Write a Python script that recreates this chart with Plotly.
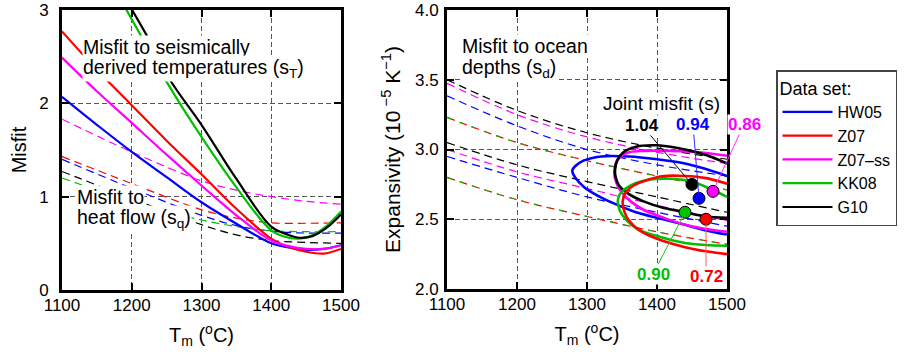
import plotly.graph_objects as go

FONT = "Liberation Sans, Arial, Helvetica, sans-serif"

DATASETS = ["HW05", "Z07", "Z07\u2013ss", "KK08", "G10"]
COLORS = ["#0000ff", "#ff0000", "#ff00ff", "#00c000", "#000000"]
LEADER_COLORS = ["#3030ff", "#ff5a5a", "#ff30ff", "#20c020", "#000000"]

# ---------------- Left panel: misfit vs Tm ----------------
# Misfit to seismically derived temperatures (s_T)
T_sT_HW05 = [1100, 1150, 1200, 1250, 1300, 1350, 1400, 1425, 1450, 1475, 1500]
sT_HW05 = [2.07, 1.77, 1.48, 1.21, 0.94, 0.71, 0.50, 0.455, 0.43, 0.44, 0.48]
T_sT_Z07 = [1100, 1150, 1200, 1250, 1300, 1350, 1400, 1425, 1450, 1475, 1500]
sT_Z07 = [2.77, 2.36, 1.98, 1.60, 1.24, 0.87, 0.55, 0.46, 0.41, 0.39, 0.44]
T_sT_Z07ss = [1100, 1150, 1200, 1250, 1300, 1350, 1400, 1425, 1450, 1475, 1500]
sT_Z07ss = [2.49, 2.13, 1.79, 1.45, 1.12, 0.80, 0.53, 0.47, 0.44, 0.44, 0.48]
T_sT_KK08 = [1185, 1215, 1250, 1300, 1350, 1400, 1425, 1440, 1460, 1480, 1500]
sT_KK08 = [3.10, 2.70, 2.23, 1.64, 1.10, 0.64, 0.56, 0.55, 0.59, 0.69, 0.84]
T_sT_G10 = [1195, 1225, 1255, 1300, 1350, 1400, 1425, 1440, 1460, 1480, 1500]
sT_G10 = [3.07, 2.68, 2.25, 1.77, 1.19, 0.68, 0.59, 0.56, 0.58, 0.67, 0.81]

# Misfit to heat flow (s_q)
T_sq = [1100, 1200, 1300, 1350, 1400, 1450, 1500]
sq_HW05 = [1.40, 1.09, 0.80, 0.69, 0.63, 0.61, 0.61]
sq_Z07 = [1.43, 1.14, 0.86, 0.77, 0.72, 0.715, 0.72]
sq_Z07ss = [1.83, 1.48, 1.17, 1.07, 1.00, 0.95, 0.92]
sq_KK08 = [1.20, 0.95, 0.75, 0.68, 0.635, 0.625, 0.625]
sq_G10 = [1.27, 0.98, 0.70, 0.59, 0.53, 0.51, 0.50]

# ---------------- Right panel: expansivity vs Tm ----------------
# Misfit to ocean depths (s_d): upper / lower bounds
T_sd = [1100, 1200, 1300, 1400, 1500]
sd_up_HW05 = [3.385, 3.17, 3.00, 2.89, 2.81]
sd_lo_HW05 = [2.95, 2.80, 2.66, 2.55, 2.45]
sd_up_Z07 = [3.23, 3.05, 2.92, 2.81, 2.71]
sd_lo_Z07 = [2.80, 2.64, 2.52, 2.41, 2.32]
sd_up_Z07ss = [3.475, 3.25, 3.09, 2.98, 2.90]
sd_lo_Z07ss = [3.00, 2.84, 2.72, 2.60, 2.49]
sd_up_KK08 = [3.23, 3.05, 2.92, 2.81, 2.71]
sd_lo_KK08 = [2.80, 2.64, 2.52, 2.41, 2.32]
sd_up_G10 = [3.50, 3.28, 3.12, 3.01, 2.93]
sd_lo_G10 = [3.05, 2.89, 2.77, 2.66, 2.55]

# Joint misfit contours
cT_HW05 = [1500, 1470, 1440, 1400, 1360, 1320, 1295, 1283, 1279, 1283, 1296, 1315, 1340, 1370, 1400, 1440, 1470, 1500]
cE_HW05 = [2.81, 2.86, 2.90, 2.93, 2.95, 2.95, 2.92, 2.88, 2.85, 2.80, 2.73, 2.67, 2.61, 2.55, 2.51, 2.46, 2.42, 2.39]
cT_Z07 = [1500, 1470, 1440, 1410, 1385, 1366, 1355, 1351, 1353, 1360, 1375, 1400, 1440, 1470, 1500]
cE_Z07 = [2.755, 2.795, 2.81, 2.81, 2.78, 2.74, 2.69, 2.63, 2.56, 2.49, 2.42, 2.36, 2.30, 2.27, 2.25]
cT_Z07ss = [1500, 1460, 1420, 1380, 1360, 1348, 1341, 1339, 1342, 1350, 1362, 1380, 1410, 1440, 1470, 1500]
cE_Z07ss = [2.955, 2.98, 2.99, 2.99, 2.98, 2.95, 2.90, 2.83, 2.76, 2.69, 2.63, 2.57, 2.51, 2.46, 2.43, 2.41]
cT_KK08 = [1500, 1475, 1450, 1420, 1390, 1370, 1355, 1347, 1344, 1347, 1357, 1372, 1400, 1440, 1470, 1500]
cE_KK08 = [2.66, 2.72, 2.77, 2.79, 2.785, 2.76, 2.72, 2.68, 2.63, 2.56, 2.49, 2.43, 2.38, 2.33, 2.315, 2.31]
cT_G10 = [1500, 1470, 1440, 1400, 1370, 1352, 1343, 1340, 1341, 1346, 1360, 1380, 1410, 1440, 1470, 1500]
cE_G10 = [2.90, 2.96, 3.00, 3.03, 3.02, 2.98, 2.92, 2.85, 2.80, 2.74, 2.68, 2.63, 2.58, 2.55, 2.52, 2.51]

# Best-fitting models and their joint misfit
BEST_T = [1460, 1470, 1480, 1440, 1450]
BEST_E = [2.65, 2.50, 2.70, 2.55, 2.75]
JOINT_MISFIT = [0.94, 0.72, 0.86, 0.90, 1.04]
# label offsets in pixels (ax, ay) from each point
LABEL_OFFSETS = [(-6, -74), (0, 57), (31, -67), (-32, 62), (-50, -59)]

sT_T = [T_sT_HW05, T_sT_Z07, T_sT_Z07ss, T_sT_KK08, T_sT_G10]
sT_V = [sT_HW05, sT_Z07, sT_Z07ss, sT_KK08, sT_G10]
sq_V = [sq_HW05, sq_Z07, sq_Z07ss, sq_KK08, sq_G10]
sd_UP = [sd_up_HW05, sd_up_Z07, sd_up_Z07ss, sd_up_KK08, sd_up_G10]
sd_LO = [sd_lo_HW05, sd_lo_Z07, sd_lo_Z07ss, sd_lo_KK08, sd_lo_G10]
C_T = [cT_HW05, cT_Z07, cT_Z07ss, cT_KK08, cT_G10]
C_E = [cE_HW05, cE_Z07, cE_Z07ss, cE_KK08, cE_G10]

W, H = 909, 357


def xf(px):
    return px / W


def yf(py):
    return (H - py) / H


fig = go.Figure()

for i in range(5):
    fig.add_trace(go.Scatter(x=T_sq, y=sq_V[i], mode="lines", line_shape="spline",
                             line=dict(color=COLORS[i], width=1.2, dash="8px,5px"),
                             xaxis="x", yaxis="y", showlegend=False, hoverinfo="skip"))

dash_patterns = ["8px,5px", "8px,5px", "8px,5px", "4px,9px", "8px,5px"]
for i in range(5):
    for arr in (sd_UP[i], sd_LO[i]):
        fig.add_trace(go.Scatter(x=T_sd, y=arr, mode="lines", line_shape="spline",
                                 line=dict(color=COLORS[i], width=1.2, dash=dash_patterns[i]),
                                 xaxis="x2", yaxis="y2", showlegend=False, hoverinfo="skip"))

for i in range(5):
    fig.add_trace(go.Scatter(x=sT_T[i], y=sT_V[i], mode="lines", line_shape="spline",
                             line=dict(color=COLORS[i], width=2.2), name=DATASETS[i],
                             legendrank=i + 1, xaxis="x", yaxis="y", showlegend=True))

for i in [0, 2, 4, 3, 1]:
    fig.add_trace(go.Scatter(x=C_T[i], y=C_E[i], mode="lines",
                             line_shape="spline", line=dict(color=COLORS[i], width=2.6, smoothing=0.9),
                             xaxis="x2", yaxis="y2", showlegend=False, hoverinfo="skip"))

fig.add_trace(go.Scatter(x=BEST_T, y=BEST_E, mode="markers",
                         marker=dict(size=12, color=COLORS, line=dict(color="black", width=1)),
                         xaxis="x2", yaxis="y2", showlegend=False, cliponaxis=False))

axis_common = dict(showline=True, linewidth=3, linecolor="black", mirror="allticks",
                   ticks="inside", ticklen=7, tickwidth=1.5, tickcolor="black",
                   showgrid=True, gridcolor="#555555", gridwidth=1, griddash="5px,3px",
                   zeroline=False, ticklabeloverflow="allow",
                   tickfont=dict(family=FONT, size=17, color="black"))

title_font = dict(family=FONT, size=20, color="black")

fig.update_layout(
    width=W, height=H,
    margin=dict(l=0, r=0, t=0, b=0, autoexpand=False),
    paper_bgcolor="white", plot_bgcolor="white",
    font=dict(family=FONT, color="black"),
    xaxis=dict(domain=[xf(62), xf(341)], anchor="y", range=[1100, 1500],
               tickvals=[1100, 1200, 1300, 1400, 1500], ticklabelstandoff=-2,
               title=dict(text="T<sub>m</sub> (<sup>o</sup>C)", font=title_font, standoff=14),
               **axis_common),
    yaxis=dict(domain=[yf(290), yf(10)], anchor="x", range=[0, 3],
               tickvals=[0, 1, 2, 3], ticklabelstandoff=7,
               title=dict(text="Misfit", font=title_font, standoff=8),
               **axis_common),
    xaxis2=dict(domain=[xf(447), xf(727)], anchor="y2", range=[1100, 1500],
                tickvals=[1100, 1200, 1300, 1400, 1500], ticklabelstandoff=-2,
                title=dict(text="T<sub>m</sub> (<sup>o</sup>C)", font=title_font, standoff=14),
                **axis_common),
    yaxis2=dict(domain=[yf(289), yf(10)], anchor="x2", range=[2, 4],
                tickvals=[2.0, 2.5, 3.0, 3.5, 4.0], ticktext=["2.0", "2.5", "3.0", "3.5", "4.0"],
                ticklabelstandoff=2,
                title=dict(text="Expansivity (10<sup> \u22125</sup> K<sup>\u22121</sup>)",
                           font=dict(family=FONT, size=21, color="black"), standoff=9),
                **axis_common),
    legend=dict(x=xf(776), y=yf(70), xanchor="left", yanchor="top",
                bgcolor="white", bordercolor="#444444", borderwidth=1.5,
                font=dict(family=FONT, size=16, color="black"),
                title=dict(text="Data set:", font=dict(family=FONT, size=18, color="black")),
                tracegroupgap=0, itemwidth=50),
)

ann_font = dict(family=FONT, size=19.5, color="black")
texts = [
    ("x", "y", 1128.7, 2.604, "Misfit to seismically", "left"),
    ("x", "y", 1128.7, 2.368, "derived temperatures (s<sub>T</sub>)", "left"),
    ("x", "y", 1120, 0.996, "Misfit to", "left"),
    ("x", "y", 1120, 0.761, "heat flow (s<sub>q</sub>)", "left"),
    ("x2", "y2", 1120, 3.742, "Misfit to ocean", "left"),
    ("x2", "y2", 1120, 3.584, "depths (s<sub>d</sub>)", "left"),
    ("x2", "y2", 1407, 3.333, "Joint misfit (s)", "center"),
]
for xr, yr, xv, yv, txt, anc in texts:
    fig.add_annotation(xref=xr, yref=yr, x=xv, y=yv, text=txt, showarrow=False,
                       xanchor=anc, yanchor="middle", bgcolor="white", borderpad=0,
                       font=ann_font if txt != "Joint misfit (s)" else dict(family=FONT, size=19, color="black"))

for i in range(5):
    ax, ay = LABEL_OFFSETS[i]
    fig.add_annotation(xref="x2", yref="y2", x=BEST_T[i], y=BEST_E[i],
                       text="<b>%.2f</b>" % JOINT_MISFIT[i], showarrow=True,
                       arrowhead=0, arrowwidth=1, arrowcolor=LEADER_COLORS[i],
                       ax=ax, ay=ay, standoff=5, bgcolor="white", borderpad=0,
                       font=dict(family=FONT, size=17, color=COLORS[i]))

fig.write_html("out.html", config={"displayModeBar": False},
               post_script="document.body.style.margin='0px';")
